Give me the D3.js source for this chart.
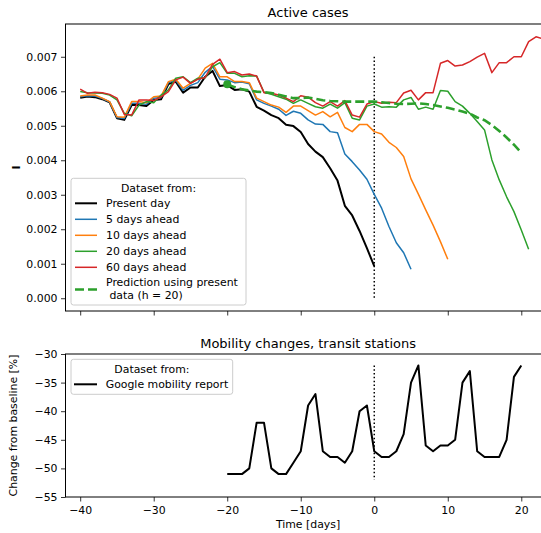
<!DOCTYPE html>
<html>
<head>
<meta charset="utf-8">
<script src="https://cdn.jsdelivr.net/npm/d3@7"></script>
<style>
body { margin: 0; background: #fff; }
svg { display: block; font-family: "DejaVu Sans", sans-serif; }
</style>
</head>
<body>
<div id="graph"></div>
<script>
// values in thousandths (x 0.001), one value per day starting at the given day
var presentStart = -40;
var presentDay = [5.81,5.85,5.83,5.77,5.68,5.22,5.17,5.60,5.60,5.57,
	5.75,5.77,6.21,6.28,5.96,6.11,6.11,6.42,6.59,6.15,
	6.18,6.04,6.06,5.99,5.55,5.44,5.31,5.22,5.03,4.99,
	4.82,4.47,4.25,4.09,3.77,3.41,2.68,2.40,1.95,1.45,0.93];

var ahead5Start = -40;
var ahead5 = [5.84,5.87,5.86,5.79,5.69,5.24,5.21,5.65,5.65,5.62,
	5.80,5.82,6.25,6.32,6.03,6.17,6.25,6.55,6.72,6.35,
	6.33,6.25,6.27,6.22,5.75,5.65,5.57,5.48,5.30,5.42,
	5.36,5.17,5.05,5.04,4.83,4.80,4.18,3.96,3.72,3.45,
	3.01,2.61,2.08,1.61,1.32,0.84];

var ahead10Start = -40;
var ahead10 = [5.86,5.89,5.89,5.80,5.70,5.26,5.25,5.70,5.70,5.67,
	5.84,5.86,6.28,6.35,6.09,6.23,6.35,6.67,6.81,6.42,
	6.42,6.28,6.28,6.25,5.80,5.70,5.60,5.54,5.39,5.57,
	5.57,5.44,5.31,5.41,5.26,5.39,4.95,4.83,5.04,5.04,
	4.83,4.76,4.52,4.37,4.11,3.46,3.02,2.56,2.12,1.64,1.13];

var ahead20Start = -40;
var ahead20 = [5.99,5.96,5.95,5.94,5.89,5.75,5.36,5.29,5.60,5.70,
	5.67,5.89,6.04,6.38,6.42,6.25,6.38,6.39,6.71,6.83,
	6.52,6.52,6.42,6.45,6.44,5.97,5.91,5.84,5.77,5.65,
	5.75,5.65,5.55,5.51,5.63,5.51,5.67,5.22,5.17,5.57,
	5.63,5.54,5.55,5.54,5.75,5.82,5.48,5.54,5.48,6.02,
	6.00,5.70,5.57,5.36,5.12,4.88,4.01,3.43,2.94,2.51,1.98,1.42];

var ahead60Start = -40;
var ahead60 = [6.06,5.94,5.97,5.96,5.91,5.80,5.33,5.31,5.75,5.75,
	5.73,5.84,5.99,6.33,6.41,6.23,6.35,6.40,6.78,6.93,
	6.54,6.57,6.47,6.50,6.44,5.96,5.94,5.89,5.80,5.70,
	5.87,5.83,5.67,5.57,5.70,5.57,5.73,5.31,5.25,5.63,
	5.70,5.65,5.68,5.67,5.95,6.03,5.75,5.96,5.96,6.81,
	6.89,6.73,6.76,6.86,6.99,7.10,6.54,6.83,6.83,7.00,7.00,7.44,7.58,7.52];

var predStart = -20;
var prediction = [6.20,6.12,6.06,6.02,5.99,5.97,5.95,5.90,5.85,5.80,
	5.80,5.82,5.78,5.74,5.72,5.71,5.70,5.70,5.70,5.70,
	5.70,5.68,5.66,5.64,5.63,5.64,5.65,5.63,5.60,5.56,
	5.52,5.47,5.41,5.35,5.24,5.16,5.02,4.85,4.66,4.45,4.22];

var mobilityStart = -20;
var mobility = [-51,-51,-51,-50,-42,-42,-50,-51,-51,-49,
	-47,-39,-37,-47,-48,-48,-49,-47,-40,-39,
	-47,-48,-48,-47,-44,-35,-32,-46,-47,-46,
	-46,-45,-35,-33,-47,-48,-48,-48,-45,-34,-32];

var xTicks = [-40, -30, -20, -10, 0, 10, 20];
var yTicksTop = [0, 0.001, 0.002, 0.003, 0.004, 0.005, 0.006, 0.007];
var yTicksBottom = [-55, -50, -45, -40, -35, -30];

var legendTop = ["Present day", "5 days ahead", "10 days ahead", "20 days ahead", "60 days ahead"];
var legendColors = ["#000000", "#1f77b4", "#ff7f0e", "#2ca02c", "#d62728"];
var predLabel = ["Prediction using present", " data (h = 20)"];

var W = 541, H = 533;
var fs = 10.9, fsTitle = 13;
var svg = d3.select('#graph').append('svg').attr('width', W).attr('height', H);

var left = 65.5, right = 550.7;
var x = d3.scaleLinear().domain([-42, 24]).range([left, right]);
var yTop = d3.scaleLinear().domain([-0.00037, 0.00795]).range([311, 24]);
var yBot = d3.scaleLinear().domain([-55, -30]).range([497, 354]);

function toPoints(start, vals, scale) {
	return vals.map((v, i) => [start + i, v * scale]);
}

svg.append('defs').append('clipPath').attr('id', 'clipTop')
	.append('rect').attr('x', left).attr('y', 24).attr('width', right - left).attr('height', 311 - 24);
svg.append('defs').append('clipPath').attr('id', 'clipBot')
	.append('rect').attr('x', left).attr('y', 354).attr('width', right - left).attr('height', 497 - 354);

// ---------- top panel ----------
var lineTop = d3.line().x(d => x(d[0])).y(d => yTop(d[1]));
var gTop = svg.append('g').attr('clip-path', 'url(#clipTop)');

gTop.append('line')
	.attr('x1', x(0)).attr('x2', x(0))
	.attr('y1', yTop(0.007)).attr('y2', yTop(0))
	.attr('stroke', 'black').attr('stroke-width', 1.5).attr('stroke-dasharray', '1.5,2.3');

var series = [
	{start: presentStart, vals: presentDay, color: legendColors[0], w: 2},
	{start: ahead5Start, vals: ahead5, color: legendColors[1], w: 1.5},
	{start: ahead10Start, vals: ahead10, color: legendColors[2], w: 1.5},
	{start: ahead20Start, vals: ahead20, color: legendColors[3], w: 1.5},
	{start: ahead60Start, vals: ahead60, color: legendColors[4], w: 1.5}
];
series.forEach(s => {
	gTop.append('path')
		.datum(toPoints(s.start, s.vals, 0.001))
		.attr('d', lineTop)
		.attr('fill', 'none')
		.attr('stroke', s.color)
		.attr('stroke-width', s.w)
		.attr('stroke-linejoin', 'round');
});

var predPts = toPoints(predStart, prediction, 0.001);
gTop.append('path')
	.datum(predPts)
	.attr('d', lineTop)
	.attr('fill', 'none')
	.attr('stroke', '#2ca02c')
	.attr('stroke-width', 2.6)
	.attr('stroke-dasharray', '9,4');
gTop.append('circle')
	.attr('cx', x(predPts[0][0])).attr('cy', yTop(predPts[0][1]))
	.attr('r', 4).attr('fill', '#2ca02c');

// axes top
svg.append('g').attr('transform', `translate(${left},0)`)
	.call(d3.axisLeft(yTop).tickValues(yTicksTop).tickFormat(d3.format('.3f')).tickSize(4.5).tickPadding(3.5).tickSizeOuter(0));
svg.append('g').attr('transform', 'translate(0,311)')
	.call(d3.axisBottom(x).tickValues(xTicks).tickFormat('').tickSize(4.5).tickSizeOuter(0));

// frame top
svg.append('rect').attr('x', left).attr('y', 24).attr('width', right - left).attr('height', 311 - 24)
	.attr('fill', 'none').attr('stroke', 'black').attr('stroke-width', 1);

svg.append('text').attr('x', (left + right) / 2).attr('y', 17)
	.attr('text-anchor', 'middle').attr('font-size', fsTitle).text('Active cases');
svg.append('text').attr('transform', 'translate(20,167.5) rotate(-90)')
	.attr('text-anchor', 'middle').attr('font-size', fs).attr('font-weight', 'bold').text('I');

// legend top
var lg = svg.append('g');
lg.append('rect').attr('x', 71).attr('y', 178.3).attr('width', 175).attr('height', 126.7)
	.attr('rx', 2.5).attr('fill', 'white').attr('fill-opacity', 0.8)
	.attr('stroke', '#cccccc').attr('stroke-width', 1);
lg.append('text').attr('x', 158.5).attr('y', 191.7).attr('text-anchor', 'middle')
	.attr('font-size', fs).text('Dataset from:');
var rows = lg.selectAll('g.row').data(legendTop).enter().append('g')
	.attr('transform', (d, i) => `translate(0,${203.3 + i * 16})`);
rows.append('line').attr('x1', 75).attr('x2', 97).attr('y1', 0).attr('y2', 0)
	.attr('stroke', (d, i) => legendColors[i]).attr('stroke-width', (d, i) => i == 0 ? 2 : 1.5);
rows.append('text').attr('x', 106).attr('y', 4).attr('font-size', fs).text(d => d);
lg.append('line').attr('x1', 75).attr('x2', 97).attr('y1', 289.5).attr('y2', 289.5)
	.attr('stroke', '#2ca02c').attr('stroke-width', 2.6).attr('stroke-dasharray', '9,4');
lg.selectAll('text.pred').data(predLabel).enter().append('text')
	.attr('class', 'pred')
	.attr('x', 106).attr('y', (d, i) => 285.8 + i * 12.9)
	.attr('font-size', fs).attr('xml:space', 'preserve').text(d => d);

// ---------- bottom panel ----------
var lineBot = d3.line().x(d => x(d[0])).y(d => yBot(d[1]));
var gBot = svg.append('g').attr('clip-path', 'url(#clipBot)');
gBot.append('line')
	.attr('x1', x(0)).attr('x2', x(0))
	.attr('y1', yBot(-32)).attr('y2', yBot(-52))
	.attr('stroke', 'black').attr('stroke-width', 1.5).attr('stroke-dasharray', '1.5,2.3');
gBot.append('path')
	.datum(toPoints(mobilityStart, mobility, 1))
	.attr('d', lineBot)
	.attr('fill', 'none').attr('stroke', 'black').attr('stroke-width', 2)
	.attr('stroke-linejoin', 'round');

svg.append('g').attr('transform', `translate(${left},0)`)
	.call(d3.axisLeft(yBot).tickValues(yTicksBottom).tickFormat(d3.format('d')).tickSize(4.5).tickPadding(3.5).tickSizeOuter(0));
svg.append('g').attr('transform', 'translate(0,497)')
	.call(d3.axisBottom(x).tickValues(xTicks).tickFormat(d3.format('d')).tickSize(4.5).tickPadding(4.5).tickSizeOuter(0));

svg.append('rect').attr('x', left).attr('y', 354).attr('width', right - left).attr('height', 497 - 354)
	.attr('fill', 'none').attr('stroke', 'black').attr('stroke-width', 1);

svg.append('text').attr('x', (left + right) / 2).attr('y', 347.5)
	.attr('text-anchor', 'middle').attr('font-size', fsTitle).text('Mobility changes, transit stations');
svg.append('text').attr('x', (left + right) / 2).attr('y', 528)
	.attr('text-anchor', 'middle').attr('font-size', fs).text('Time [days]');
svg.append('text').attr('transform', 'translate(17,425.5) rotate(-90)')
	.attr('text-anchor', 'middle').attr('font-size', fs).text('Change from baseline [%]');

var lb = svg.append('g');
lb.append('rect').attr('x', 71).attr('y', 359.3).attr('width', 161.7).attr('height', 35)
	.attr('rx', 2.5).attr('fill', 'white').attr('fill-opacity', 0.8)
	.attr('stroke', '#cccccc').attr('stroke-width', 1);
lb.append('text').attr('x', 151.9).attr('y', 372.6).attr('text-anchor', 'middle')
	.attr('font-size', fs).text('Dataset from:');
lb.append('line').attr('x1', 74).attr('x2', 97).attr('y1', 384.3).attr('y2', 384.3)
	.attr('stroke', 'black').attr('stroke-width', 2);
lb.append('text').attr('x', 105.7).attr('y', 388.3).attr('font-size', fs).text('Google mobility report');

svg.selectAll('.tick text').attr('font-size', fs).attr('font-family', '"DejaVu Sans", sans-serif').attr('fill', 'black');
svg.selectAll('.tick line').attr('stroke-width', 0.8);
svg.selectAll('.domain').remove();
</script>
</body>
</html>
